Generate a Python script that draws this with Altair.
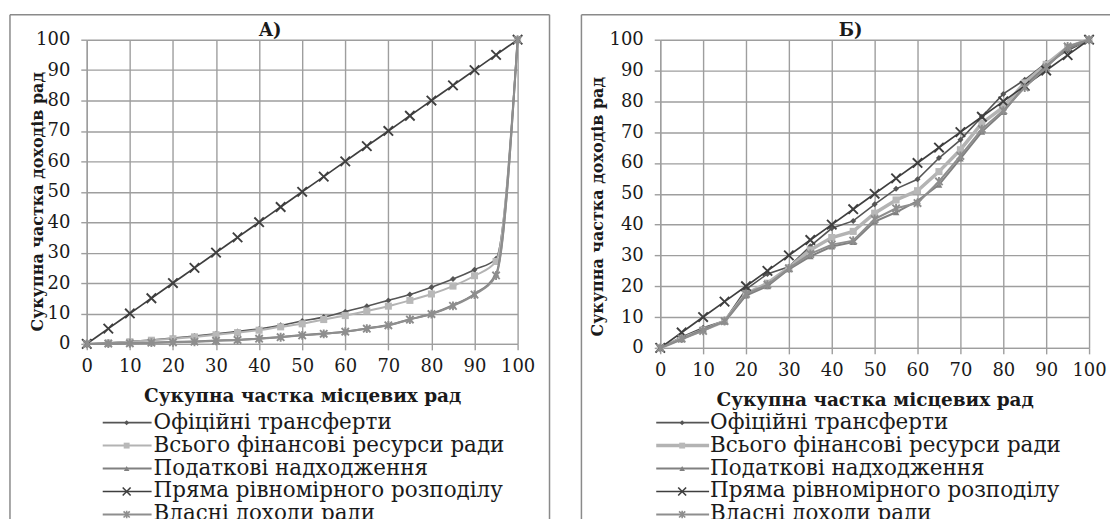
import altair as alt
import pandas as pd

# ---- data ----
x_share = [0, 5, 10, 15, 20, 25, 30, 35, 40, 45, 50, 55, 60, 65, 70, 75, 80, 85, 90, 95, 100]
series_names = [
    "Офіційні трансферти",
    "Всього фінансові ресурси  ради",
    "Податкові надходження",
    "Пряма рівномірного розподілу",
    "Власні  доходи ради",
]
x_ticks = [0, 10, 20, 30, 40, 50, 60, 70, 80, 90, 100]
y_ticks = [0, 10, 20, 30, 40, 50, 60, 70, 80, 90, 100]

official_A = [0, 0.3, 0.8, 1.3, 1.9, 2.6, 3.3, 4.1, 4.9, 6.1, 7.5, 8.8, 10.6, 12.4, 14.3, 16.2, 18.6, 21.3, 24.4, 28.0, 100]
total_A = [0, 0.3, 0.7, 1.2, 1.7, 2.3, 3.0, 3.7, 4.5, 5.6, 6.6, 8.0, 9.3, 10.8, 12.4, 14.3, 16.4, 19.0, 22.4, 27.1, 100]
tax_A = [0, 0.1, 0.2, 0.4, 0.6, 0.8, 1.1, 1.3, 1.8, 2.3, 2.9, 3.4, 4.0, 5.1, 6.2, 8.1, 9.9, 12.7, 16.4, 23.0, 100]
equal_A = [0, 5, 10, 15, 20, 25, 30, 35, 40, 45, 50, 55, 60, 65, 70, 75, 80, 85, 90, 95, 100]
own_A = [0, 0.1, 0.2, 0.4, 0.5, 0.7, 1.0, 1.3, 1.7, 2.2, 2.8, 3.3, 4.0, 5.0, 6.1, 8.0, 9.8, 12.5, 16.2, 22.5, 100]

official_B = [0, 3.5, 6.5, 8.8, 19.0, 24.0, 26.3, 33.0, 38.8, 41.2, 46.6, 51.6, 54.7, 61.6, 67.5, 75.0, 82.4, 87.0, 92.5, 96.5, 100]
total_B = [0, 3.0, 5.8, 8.6, 17.5, 21.0, 26.0, 31.8, 35.8, 37.8, 43.7, 48.0, 51.0, 57.2, 64.3, 72.9, 78.1, 86.0, 92.0, 97.5, 100]
tax_B = [0, 2.8, 6.0, 8.5, 17.0, 20.0, 25.5, 29.7, 32.9, 34.3, 41.0, 44.0, 47.7, 52.9, 61.4, 70.1, 76.5, 85.0, 91.5, 97.0, 100]
equal_B = [0, 5, 10, 15, 20, 25, 30, 35, 40, 45, 50, 55, 60, 65, 70, 75, 80, 85, 90, 95, 100]
own_B = [0, 3.0, 5.5, 8.7, 17.5, 20.5, 25.8, 30.5, 33.5, 34.8, 41.8, 45.3, 47.0, 54.0, 62.3, 71.0, 77.0, 84.5, 91.0, 97.8, 100]

# ---- styles ----
FONT = "DejaVu Serif"
GRID = "#9e9e9e"
FRAME = "#8a8a8a"
line_colors = ["#555555", "#b3b3b3", "#808080", "#3f3f3f", "#8e8e8e"]
marker_shapes = [
    "diamond",
    "square",
    "triangle-up",
    "M-1,-1L1,1M-1,1L1,-1",
    "M-1,-1L1,1M-1,1L1,-1M0,-1.2L0,1.2",
]
marker_filled = [True, True, True, False, False]
marker_sizes = [36, 50, 45, 90, 55]


def panel(values, title, title_x, width, height, y_title, y_tx, y_ty,
          box, right_side, leg_range, leg_x, total_w, interp):
    X = alt.X("x:Q", scale=alt.Scale(domain=[0, 100], nice=False),
              axis=alt.Axis(values=x_ticks, title="Сукупна частка місцевих рад",
                            grid=True, gridColor=GRID, gridWidth=1.4,
                            domainColor=GRID, domainWidth=1.4,
                            tickColor=GRID, tickWidth=1.4, tickSize=6,
                            labelFont=FONT, labelFontSize=18, labelColor="#1a1a1a",
                            labelPadding=8, labelFlush=False, labelOverlap=False,
                            titleFont=FONT, titleFontSize=18.5, titleFontWeight="bold",
                            titleColor="#1a1a1a", titlePadding=11))
    Y = alt.Y("y:Q", scale=alt.Scale(domain=[0, 100], nice=False),
              axis=alt.Axis(values=y_ticks, title=y_title,
                            grid=True, gridColor=GRID, gridWidth=1.4,
                            domainColor=GRID, domainWidth=1.4,
                            tickColor=GRID, tickWidth=1.4, tickSize=6,
                            labelFont=FONT, labelFontSize=18, labelColor="#1a1a1a",
                            labelPadding=11, labelFlush=False, labelOverlap=False,
                            titleFont=FONT, titleFontSize=16, titleFontWeight="bold",
                            titleColor="#1a1a1a", titleX=y_tx, titleY=y_ty,
                            titleBaseline="middle", titleAlign="center"))

    series_layers = []
    for i, vals in enumerate(values):
        df = pd.DataFrame({"x": x_share, "y": vals})
        lw = [1.6, total_w, 2.0, 1.7, 2.0][i]
        ln = alt.Chart(df).mark_line(color=line_colors[i], strokeWidth=lw,
                                     interpolate=interp).encode(x=X, y=Y)
        pt = alt.Chart(df).mark_point(shape=marker_shapes[i], filled=marker_filled[i],
                                      color=line_colors[i] if i != 1 else "#b8b8b8",
                                      size=marker_sizes[i], opacity=1,
                                      strokeWidth=1.9).encode(x=X, y=Y)
        series_layers += [ln, pt]
    plot = alt.layer(*series_layers)

    # legend (rows placed through a y scale)
    LY = alt.Y("row:Q", scale=alt.Scale(domain=[0, 4], range=leg_range), axis=None)
    leg_layers = []
    for i, name in enumerate(series_names):
        ldf = pd.DataFrame({"row": [i], "label": [name]})
        lw = [1.6, total_w, 2.0, 1.7, 2.0][i]
        leg_layers.append(alt.Chart(ldf).mark_rule(color=line_colors[i], strokeWidth=lw).encode(
            x=alt.value(leg_x[0]), x2=alt.value(leg_x[1]), y=LY))
        leg_layers.append(alt.Chart(ldf).mark_point(shape=marker_shapes[i], filled=marker_filled[i],
                                                    color=line_colors[i] if i != 1 else "#b8b8b8",
                                                    size=marker_sizes[i] * 0.7, opacity=1,
                                                    strokeWidth=1.6).encode(
            x=alt.value(leg_x[2]), y=LY))
        leg_layers.append(alt.Chart(ldf).mark_text(align="left", baseline="middle", font=FONT,
                                                   fontSize=21.5, color="#1a1a1a").encode(
            x=alt.value(leg_x[3]), y=LY, text="label:N"))
    legend = alt.layer(*leg_layers)

    one = pd.DataFrame({"t": [title]})
    x0, x1, y0, y1 = box
    frame = [
        alt.Chart(one).mark_rule(color=FRAME, strokeWidth=1.5).encode(
            x=alt.value(x0), x2=alt.value(x1), y=alt.value(y0)),
        alt.Chart(one).mark_rule(color=FRAME, strokeWidth=1.5).encode(
            x=alt.value(x0), y=alt.value(y0), y2=alt.value(y1)),
    ]
    if right_side:
        frame.append(alt.Chart(one).mark_rule(color=FRAME, strokeWidth=1.5).encode(
            x=alt.value(x1), y=alt.value(y0), y2=alt.value(y1)))
    ttl = alt.Chart(one).mark_text(font=FONT, fontSize=18, fontWeight="bold",
                                   color="#1a1a1a", baseline="middle").encode(
        x=alt.value(title_x), y=alt.value(-9), text="t:N")

    return alt.layer(*frame, ttl, plot, legend).resolve_scale(
        x="independent", y="independent").properties(width=width, height=height)


pA = panel([official_A, total_A, tax_A, equal_A, own_A], "A)", 184, 432, 305,
           "Сукупна частка  доходів рад", -49, 162,
           (-77, 464, -25, 560), True, [384, 476], (16, 65, 40, 67), 2.0, "monotone")
pB = panel([official_B, total_B, tax_B, equal_B, own_B], "Б)", 191, 430, 309,
           "Сукупна частка доходів рад", -63, 167,
           (-79, 451, -25, 560), False, [384, 476], (-4, 49, 22, 50), 3.5, "linear")

chart = alt.hconcat(pA, pB, spacing=30).configure(
    padding={"left": 9, "top": 13, "right": 0, "bottom": 0},
    background="white",
).configure_view(stroke=None)

chart.save("out.html", embed_options={"renderer": "svg", "actions": False})
